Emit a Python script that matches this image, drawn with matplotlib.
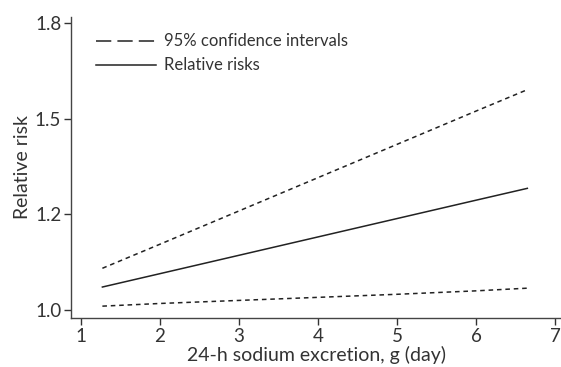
import matplotlib.pyplot as plt
from matplotlib.lines import Line2D

plt.rcParams['font.family'] = ['Lato', 'DejaVu Sans']

# sodium excretion (g/day) and estimated relative risks
sodium = [1.27, 2, 3, 4, 5, 6, 6.65]
rr = [1.060, 1.095, 1.143, 1.191, 1.239, 1.287, 1.318]
ci_upper = [1.109, 1.172, 1.259, 1.346, 1.433, 1.520, 1.576]
ci_lower = [1.010, 1.017, 1.025, 1.033, 1.041, 1.050, 1.057]

xticks = [1, 2, 3, 4, 5, 6, 7]
yticks = [1.0, 1.25, 1.5, 1.75]
ytick_labels = ["1.0", "1.2", "1.5", "1.8"]

fig = plt.figure(figsize=(5.61, 3.67), dpi=100)
ax = fig.add_axes([0.1266, 0.1335, 0.8734, 0.8202])

ax.plot(sodium, rr, color='#222222', lw=1.1)
ax.plot(sodium, ci_upper, color='#222222', lw=1.1, ls=(0, (3, 2.5)))
ax.plot(sodium, ci_lower, color='#222222', lw=1.1, ls=(0, (3, 2.5)))

ax.set_xlim(0.873, 7.076)
ax.set_ylim(0.979, 1.766)
ax.set_xticks(xticks)
ax.set_yticks(yticks)
ax.set_yticklabels(ytick_labels)

for s in ['top', 'right']:
    ax.spines[s].set_visible(False)
for s in ['left', 'bottom']:
    ax.spines[s].set_color('#444444')
    ax.spines[s].set_linewidth(1.0)
ax.tick_params(colors='#333333', labelsize=13.5, length=5, width=1.0, pad=2)

ax.set_xlabel("24-h sodium excretion, g (day)", fontsize=14, color='#333333', labelpad=1)
ax.set_ylabel("Relative risk", fontsize=14, color='#333333', labelpad=3)

handles = [Line2D([], [], color='#222222', lw=1.1, ls=(0, (10, 4))),
           Line2D([], [], color='#222222', lw=1.1)]
ax.legend(handles, ["95% confidence intervals", "Relative risks"],
          loc='upper left', bbox_to_anchor=(0.02, 0.995), frameon=False,
          fontsize=12, handlelength=3.6, labelspacing=0.48, handletextpad=0.5,
          labelcolor='#333333')

fig.savefig('out.png', dpi=100)
